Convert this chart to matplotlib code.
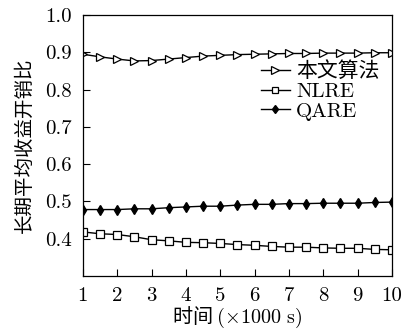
import matplotlib
matplotlib.use("Agg")
import matplotlib.pyplot as plt

plt.rcParams['font.family'] = ['cmr10', 'Noto Sans CJK SC', 'DejaVu Sans']
plt.rcParams['mathtext.fontset'] = 'cm'
plt.rcParams['axes.unicode_minus'] = False

# time in units of 1000 s
time_k = [1, 1.5, 2, 2.5, 3, 3.5, 4, 4.5, 5, 5.5, 6, 6.5, 7, 7.5, 8, 8.5, 9, 9.5, 10]

ours = [0.895, 0.888, 0.882, 0.877, 0.878, 0.882, 0.886, 0.890, 0.892, 0.894,
        0.895, 0.896, 0.897, 0.897, 0.898, 0.898, 0.898, 0.899, 0.899]
nlre = [0.418, 0.413, 0.411, 0.405, 0.397, 0.394, 0.390, 0.389, 0.387, 0.384,
        0.382, 0.379, 0.377, 0.377, 0.375, 0.374, 0.374, 0.371, 0.370]
qare = [0.478, 0.478, 0.478, 0.480, 0.480, 0.483, 0.485, 0.487, 0.487, 0.490,
        0.492, 0.492, 0.494, 0.494, 0.495, 0.495, 0.495, 0.497, 0.498]

series_names = ['本文算法', 'NLRE', 'QARE']
xticks = [1, 2, 3, 4, 5, 6, 7, 8, 9, 10]
yticks = [0.4, 0.5, 0.6, 0.7, 0.8, 0.9, 1.0]


def main():
    fig = plt.figure(figsize=(4.02, 3.36), dpi=100)
    ax = fig.add_axes([0.206, 0.179, 0.769, 0.776])

    ax.plot(time_k, ours, color='black', lw=1.0, marker='>', ms=6,
            mfc='white', mec='black', mew=0.9, label=series_names[0])
    ax.plot(time_k, nlre, color='black', lw=1.0, marker='s', ms=5.5,
            mfc='white', mec='black', mew=0.9, label=series_names[1])
    ax.plot(time_k, qare, color='black', lw=1.0, marker='d', ms=5,
            mfc='black', mec='black', label=series_names[2])

    ax.set_xlim(1, 10)
    ax.set_ylim(0.3, 1.0)
    ax.set_xticks(xticks)
    ax.set_yticks(yticks)
    ax.set_xticklabels([str(t) for t in xticks])
    ax.set_yticklabels([f"{t:.1f}" for t in yticks])
    ax.tick_params(direction='in', length=5, width=0.8, labelsize=15,
                   top=False, right=False, pad=8)
    for sp in ax.spines.values():
        sp.set_linewidth(0.9)

    ax.set_xlabel('时间 $(\\times 1000\\ \\mathrm{s})$', fontsize=14.5,
                  family=['Noto Sans CJK SC'], labelpad=0)
    ax.set_ylabel('长期平均收益开销比', fontsize=14,
                  family=['Noto Sans CJK SC'], labelpad=7)

    ax.legend(loc='upper right', bbox_to_anchor=(1.0, 0.87), frameon=False,
              fontsize=15, handlelength=1.4, handletextpad=0.3,
              labelspacing=0.05, borderaxespad=0.2, markerscale=0.9)

    fig.savefig('out.png', dpi=100)


if __name__ == "__main__":
    main()
